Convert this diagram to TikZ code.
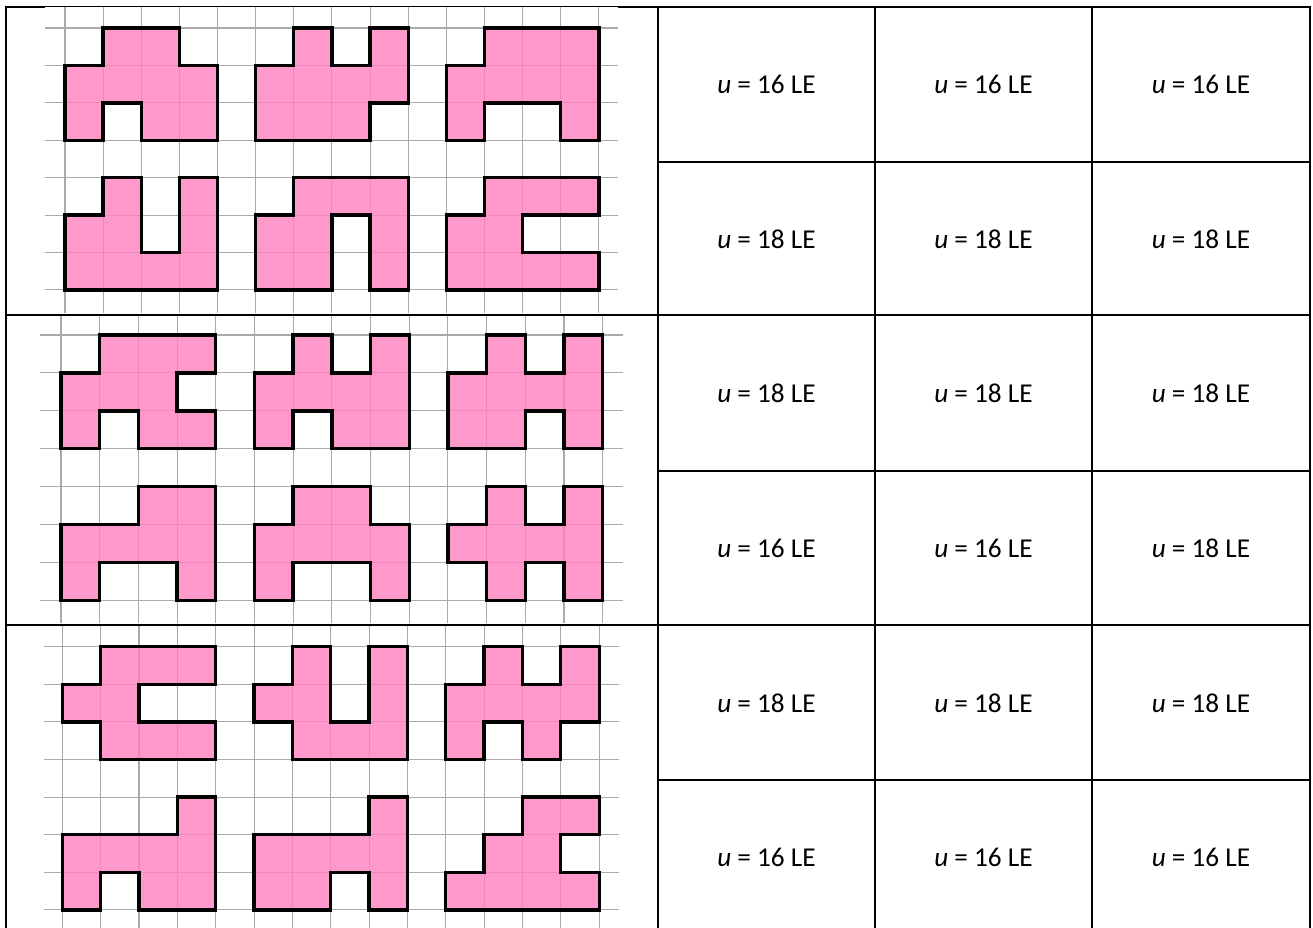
\documentclass[tikz,border=0pt]{standalone}
\usepackage{fontspec}
\setmainfont{Carlito}
\definecolor{piecepink}{RGB}{255,128,191}
\definecolor{gridgray}{RGB}{170,170,170}
\tikzset{
  tableline/.style={black,line width=1.1pt},
  gridline/.style={gridgray,line width=0.6pt},
  piece/.style={fill=piecepink,fill opacity=0.8,draw=black,line width=1.9pt},
  lecell/.style={font=\fontsize{15.5}{18}\selectfont,inner sep=0pt}
}
\begin{document}
\begin{tikzpicture}[x=0.02cm,y=-0.02cm]
\useasboundingbox (0,0) rectangle (1313,928);
% table frame
\draw[tableline] (5.7,928) -- (5.7,7) -- (1310,7) -- (1310,928);
\draw[tableline] (658,7) -- (658,928);
\draw[tableline] (875,7) -- (875,928);
\draw[tableline] (1092,7) -- (1092,928);
\draw[tableline] (5.7,315) -- (1310,315);
\draw[tableline] (5.7,625) -- (1310,625);
\foreach \y in {162,471,780} \draw[tableline] (658,\y) -- (1310,\y);
% perimeters
\foreach \a/\b/\c [count=\r] in {16/16/16,18/18/18,18/18/18,16/16/18,18/18/18,16/16/16}{
  \node[lecell] (le-\r-1) at (766.5,{84.5+154.6*(\r-1)}) {\textit{u} = \a{} LE};
  \node[lecell] (le-\r-2) at (983.5,{84.5+154.6*(\r-1)}) {\textit{u} = \b{} LE};
  \node[lecell] (le-\r-3) at (1201,{84.5+154.6*(\r-1)}) {\textit{u} = \c{} LE};
}
% block 1
\begin{scope}[shift={(65,28)},x=0.7628cm,y=-0.7486cm]
  \fill[white] (-0.52,-0.56) rectangle (14.5,7.61);
  \foreach \k in {0,...,14} \draw[gridline] (\k,-0.56) -- (\k,7.61);
  \foreach \k in {0,...,7} \draw[gridline] (-0.52,\k) -- (14.5,\k);
  \filldraw[piece] (1,0) -- (3,0) -- (3,1) -- (4,1) -- (4,3) -- (2,3) -- (2,2) -- (1,2) -- (1,3) -- (0,3) -- (0,1) -- (1,1) -- cycle;
  \filldraw[piece,shift={(5,0)}] (1,0) -- (2,0) -- (2,1) -- (3,1) -- (3,0) -- (4,0) -- (4,2) -- (3,2) -- (3,3) -- (0,3) -- (0,1) -- (1,1) -- cycle;
  \filldraw[piece,shift={(10,0)}] (1,0) -- (4,0) -- (4,3) -- (3,3) -- (3,2) -- (1,2) -- (1,3) -- (0,3) -- (0,1) -- (1,1) -- cycle;
  \filldraw[piece,shift={(0,4)}] (1,0) -- (2,0) -- (2,2) -- (3,2) -- (3,0) -- (4,0) -- (4,3) -- (0,3) -- (0,1) -- (1,1) -- cycle;
  \filldraw[piece,shift={(5,4)}] (1,0) -- (4,0) -- (4,3) -- (3,3) -- (3,1) -- (2,1) -- (2,3) -- (0,3) -- (0,1) -- (1,1) -- cycle;
  \filldraw[piece,shift={(10,4)}] (1,0) -- (4,0) -- (4,1) -- (2,1) -- (2,2) -- (4,2) -- (4,3) -- (0,3) -- (0,1) -- (1,1) -- cycle;
\end{scope}
% block 2
\begin{scope}[shift={(61,335)},x=0.774cm,y=-0.759cm]
  \fill[white] (-0.54,-0.51) rectangle (14.52,7.6);
  \foreach \k in {0,...,14} \draw[gridline] (\k,-0.51) -- (\k,7.6);
  \foreach \k in {0,...,7} \draw[gridline] (-0.54,\k) -- (14.52,\k);
  \filldraw[piece] (1,0) -- (4,0) -- (4,1) -- (3,1) -- (3,2) -- (4,2) -- (4,3) -- (2,3) -- (2,2) -- (1,2) -- (1,3) -- (0,3) -- (0,1) -- (1,1) -- cycle;
  \filldraw[piece,shift={(5,0)}] (1,0) -- (2,0) -- (2,1) -- (3,1) -- (3,0) -- (4,0) -- (4,3) -- (2,3) -- (2,2) -- (1,2) -- (1,3) -- (0,3) -- (0,1) -- (1,1) -- cycle;
  \filldraw[piece,shift={(10,0)}] (1,0) -- (2,0) -- (2,1) -- (3,1) -- (3,0) -- (4,0) -- (4,3) -- (3,3) -- (3,2) -- (2,2) -- (2,3) -- (0,3) -- (0,1) -- (1,1) -- cycle;
  \filldraw[piece,shift={(0,4)}] (2,0) -- (4,0) -- (4,3) -- (3,3) -- (3,2) -- (1,2) -- (1,3) -- (0,3) -- (0,1) -- (2,1) -- cycle;
  \filldraw[piece,shift={(5,4)}] (1,0) -- (3,0) -- (3,1) -- (4,1) -- (4,3) -- (3,3) -- (3,2) -- (1,2) -- (1,3) -- (0,3) -- (0,1) -- (1,1) -- cycle;
  \filldraw[piece,shift={(10,4)}] (1,0) -- (2,0) -- (2,1) -- (3,1) -- (3,0) -- (4,0) -- (4,3) -- (3,3) -- (3,2) -- (2,2) -- (2,3) -- (1,3) -- (1,2) -- (0,2) -- (0,1) -- (1,1) -- cycle;
\end{scope}
% block 3
\begin{scope}[shift={(62.3,646.7)},x=0.7671cm,y=-0.752cm]
  \fill[white] (-0.48,-0.56) rectangle (14.53,7.48);
  \foreach \k in {0,...,14} \draw[gridline] (\k,-0.56) -- (\k,7.48);
  \foreach \k in {0,...,7} \draw[gridline] (-0.48,\k) -- (14.53,\k);
  \filldraw[piece] (1,0) -- (4,0) -- (4,1) -- (2,1) -- (2,2) -- (4,2) -- (4,3) -- (1,3) -- (1,2) -- (0,2) -- (0,1) -- (1,1) -- cycle;
  \filldraw[piece,shift={(5,0)}] (1,0) -- (2,0) -- (2,2) -- (3,2) -- (3,0) -- (4,0) -- (4,3) -- (1,3) -- (1,2) -- (0,2) -- (0,1) -- (1,1) -- cycle;
  \filldraw[piece,shift={(10,0)}] (1,0) -- (2,0) -- (2,1) -- (3,1) -- (3,0) -- (4,0) -- (4,2) -- (3,2) -- (3,3) -- (2,3) -- (2,2) -- (1,2) -- (1,3) -- (0,3) -- (0,1) -- (1,1) -- cycle;
  \filldraw[piece,shift={(0,4)}] (3,0) -- (4,0) -- (4,3) -- (2,3) -- (2,2) -- (1,2) -- (1,3) -- (0,3) -- (0,1) -- (3,1) -- cycle;
  \filldraw[piece,shift={(5,4)}] (3,0) -- (4,0) -- (4,3) -- (3,3) -- (3,2) -- (2,2) -- (2,3) -- (0,3) -- (0,1) -- (3,1) -- cycle;
  \filldraw[piece,shift={(10,4)}] (2,0) -- (4,0) -- (4,1) -- (3,1) -- (3,2) -- (4,2) -- (4,3) -- (0,3) -- (0,2) -- (1,2) -- (1,1) -- (2,1) -- cycle;
\end{scope}
\end{tikzpicture}
\end{document}
